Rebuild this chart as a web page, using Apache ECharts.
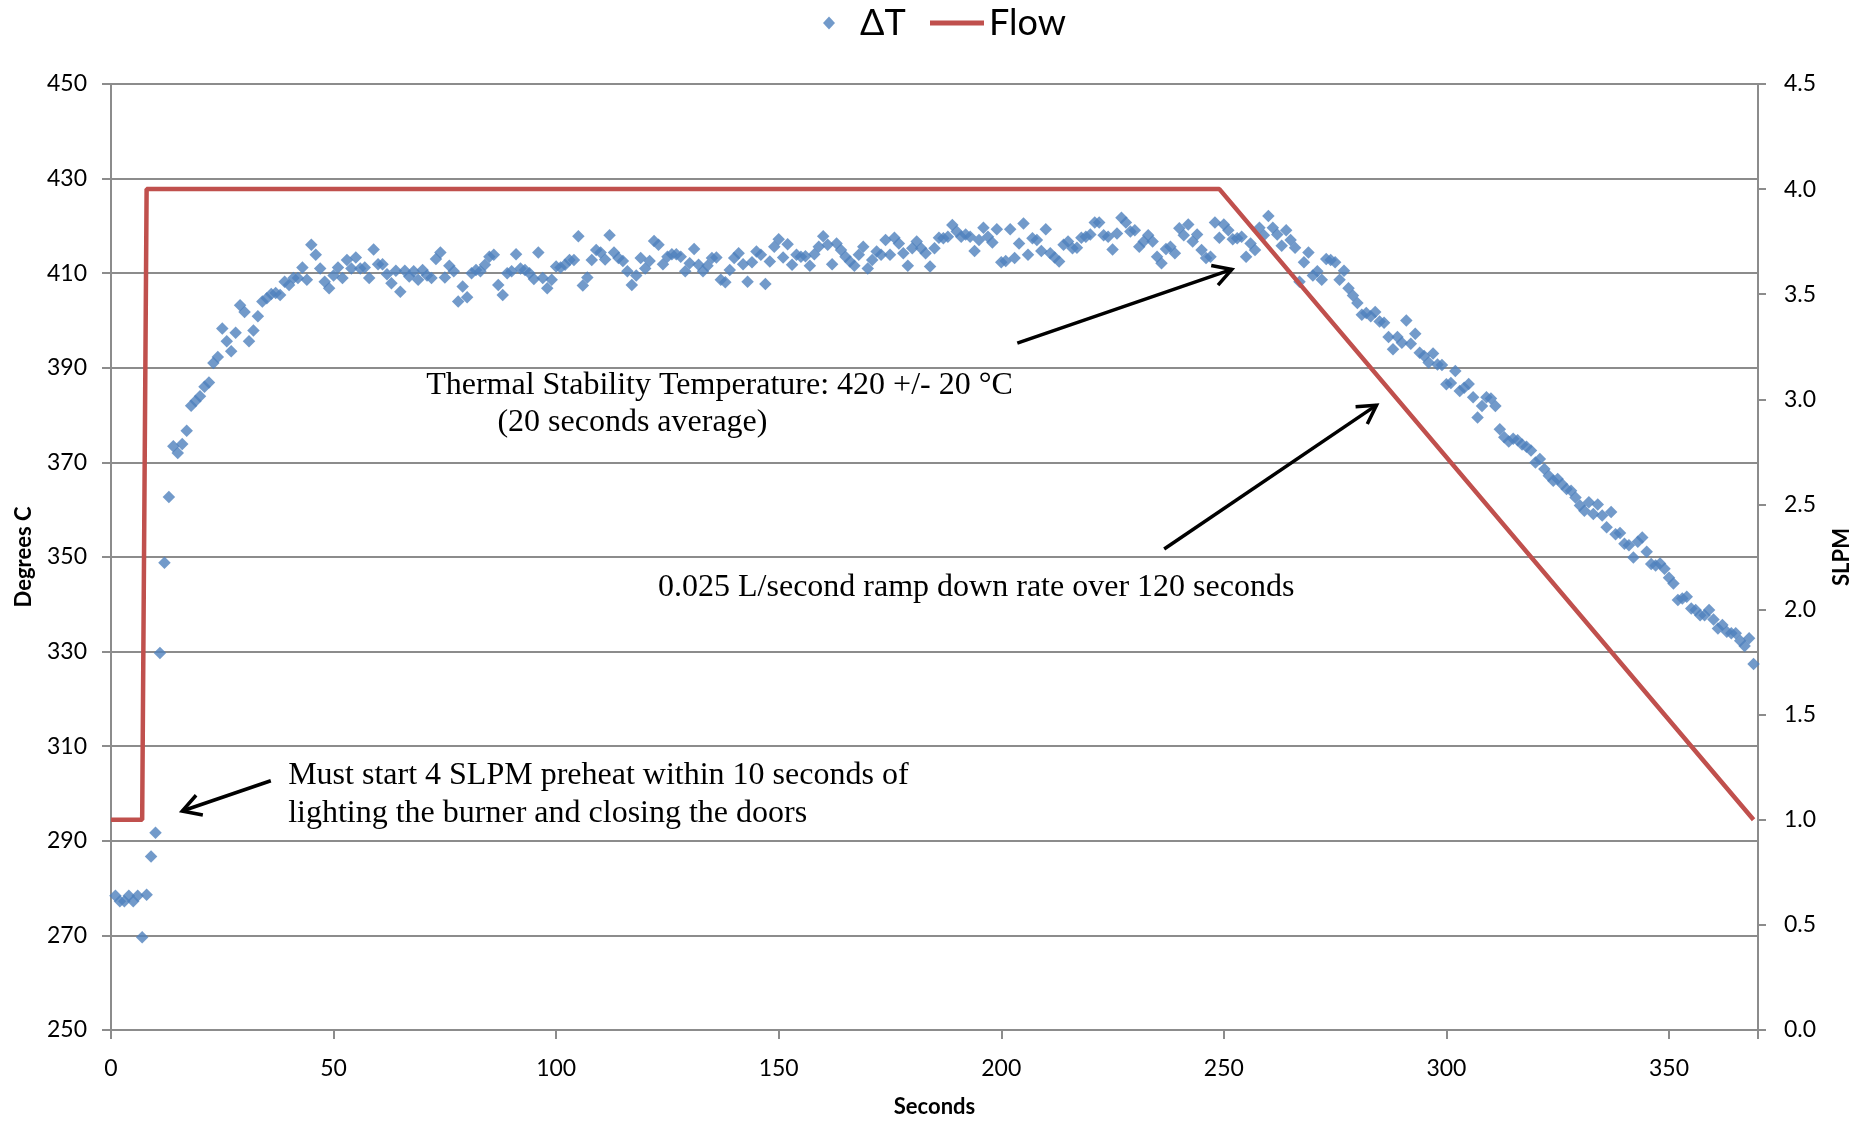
<!DOCTYPE html>
<html>
<head>
<meta charset="utf-8">
<title>ΔT and Flow</title>
<script src="https://cdn.jsdelivr.net/npm/echarts@6/dist/echarts.min.js"></script>
<style>
html,body{margin:0;padding:0;background:#fff;}
#main{width:1866px;height:1123px;}
</style>
</head>
<body>
<div id="main"></div>
<script>
// ΔT readings (Degrees C), one per second starting at t = 1 s
var deltaT = [
	278.4, 277.2, 277.2, 278.4, 277.2, 278.4, 269.6, 278.6, 286.7, 291.7,
	329.7, 348.8, 362.7, 373.4, 372, 373.9, 376.7, 382, 383, 384,
	386, 386.9, 391, 392.3, 398.3, 395.6, 393.5, 397.4, 403.2, 401.8,
	395.6, 397.9, 400.9, 404, 404.7, 405.6, 405.8, 405.4, 408.2, 407.5,
	409, 409, 411.2, 408.6, 416, 413.9, 411, 408.2, 406.8, 409.5,
	411.2, 409, 412.8, 411, 413.3, 411, 411.2, 409, 415, 411.9,
	411.9, 409.8, 407.9, 410.5, 406.1, 410.5, 409.3, 410.4, 408.6, 410.7,
	409.5, 409, 413, 414.4, 409.1, 411.6, 410.4, 404, 407.2, 404.9,
	410, 410.7, 410.4, 411.8, 413.5, 413.9, 407.5, 405.4, 410, 410.4,
	414, 411, 410.7, 410, 408.8, 414.4, 409, 406.8, 408.6, 411.4,
	411.2, 411.8, 412.8, 412.8, 417.8, 407.4, 409.1, 412.8, 414.9, 414.4,
	412.9, 418, 414.4, 413.2, 412.6, 410.4, 407.5, 409.5, 413.2, 411,
	412.6, 416.8, 416, 411.9, 413.5, 414, 414, 413.5, 410.4, 412.1,
	415.1, 411.8, 410.4, 411.6, 413.2, 413.3, 408.6, 408.1, 410.7, 413.2,
	414.2, 411.9, 408.2, 412.3, 414.6, 413.9, 407.7, 412.5, 415.6, 417.2,
	413.3, 416.1, 411.8, 413.9, 413.5, 413.6, 411.6, 414, 415.6, 417.8,
	416, 411.9, 416.3, 414.9, 413.5, 412.5, 411.6, 413.9, 415.6, 411,
	412.8, 414.6, 413.9, 417, 413.9, 417.5, 416.3, 414.2, 411.6, 415.3,
	416.7, 415.3, 414.2, 411.4, 415.3, 417.5, 417.4, 417.7, 420.2, 418.8,
	417.7, 418.2, 417.7, 414.7, 417, 419.6, 417.7, 416.5, 419.3, 412.3,
	412.6, 419.3, 413.2, 416.3, 420.5, 413.9, 417.4, 417, 414.7, 419.3,
	414.2, 413.3, 412.5, 416, 416.7, 415.3, 415.4, 417.5, 417.7, 418.2,
	420.7, 420.7, 418, 417.7, 415, 418.4, 421.7, 420.7, 418.8, 419.1,
	415.6, 416.7, 418, 416.7, 413.5, 412.1, 415.1, 415.6, 414.2, 419.5,
	418, 420.3, 416.7, 418.2, 414.9, 413.2, 413.5, 420.7, 417.5, 420.3,
	419.1, 417.2, 417.4, 417.7, 413.5, 416.3, 414.9, 419.6, 418, 422.1,
	419.6, 418.2, 415.8, 419.1, 417, 415.4, 408.2, 412.3, 414.4, 409.5,
	410.4, 408.6, 413, 412.8, 412.3, 408.6, 410.5, 406.8, 405.3, 403.7,
	401.2, 401.6, 400.9, 401.8, 399.8, 399.5, 396.5, 393.9, 396.5, 395.3,
	400, 395.1, 397.2, 393.2, 392.5, 391.1, 393, 390.7, 390.6, 386.5,
	386.8, 389.3, 385.1, 385.8, 386.6, 383.8, 379.5, 381.9, 383.8, 383.5,
	381.9, 377, 375.3, 374.4, 375, 374.7, 373.8, 373.3, 372.5, 370,
	370.7, 368.6, 367.2, 366.1, 366.5, 365.4, 364.4, 364, 362.6, 360.9,
	359.8, 361.6, 359.1, 361.1, 358.8, 356.3, 359.5, 354.8, 355.1, 352.8,
	352.5, 349.9, 353.2, 354.1, 351.1, 348.5, 348.2, 348.6, 347.5, 345.6,
	344.4, 340.9, 341.2, 341.6, 339.1, 338.8, 337.7, 337.7, 338.8, 336.8,
	334.9, 335.6, 334.2, 333.9, 333.9, 332.3, 331.2, 332.8, 327.4
];

// flow set point (SLPM)
var flowSeconds = [0, 7, 8, 249, 369];
var flowSlpm = [1.0, 1.0, 4.0, 4.0, 1.0];

// annotations, anchored in data coordinates (seconds, degrees C)
var notes = [
	{text: 'Thermal Stability Temperature: 420 +/- 20 °C', at: [70.8, 386.2]},
	{text: '(20 seconds average)', at: [86.8, 378.4]},
	{text: '0.025 L/second ramp down rate over 120 seconds', at: [122.9, 343.6]},
	{text: 'Must start 4 SLPM preheat within 10 seconds of', at: [39.8, 303.8]},
	{text: 'lighting the burner and closing the doors', at: [39.8, 295.8]}
];
var arrows = [
	{from: [203.6, 395.2], to: [251.8, 410.8]},
	{from: [236.6, 351.7], to: [284.3, 382.1]},
	{from: [35.9, 302.7], to: [16.0, 296.3]}
];

var chart = echarts.init(document.getElementById('main'));
var gray = '#8c8c8c';
var font = 'Lato';

var scatterData = deltaT.map(function (v, i) { return [i + 1, v]; });
var flowData = flowSeconds.map(function (s, i) { return [s, flowSlpm[i]]; });

var legendText = {fontFamily: font, fontSize: 36, color: '#000'};

var option = {
	animation: false,
	backgroundColor: '#fff',
	grid: {left: 111, right: 108, top: 84, bottom: 87, containLabel: false},
	legend: [
		{
			data: ['ΔT'], left: 818, top: 0, icon: 'diamond',
			itemWidth: 12, itemHeight: 13,
			textStyle: Object.assign({padding: [0, 0, 0, 20]}, legendText)
		},
		{
			data: ['Flow'], left: 925, top: 0, icon: 'rect',
			itemWidth: 54, itemHeight: 5,
			textStyle: legendText
		}
	],
	xAxis: {
		type: 'value', min: 0, max: 370, interval: 50,
		name: 'Seconds', nameLocation: 'middle', nameGap: 66,
		nameTextStyle: {fontFamily: font, fontWeight: 'bold', fontSize: 22, color: '#000'},
		axisLine: {show: true, onZero: false, lineStyle: {color: gray, width: 2}},
		axisTick: {show: true, length: 9, lineStyle: {color: gray, width: 2}},
		axisLabel: {
			fontFamily: font, fontSize: 23, color: '#000', margin: 27,
			formatter: function (v) { return v % 50 === 0 ? v : ''; }
		},
		splitLine: {show: false}
	},
	yAxis: [
		{
			type: 'value', position: 'left', min: 250, max: 450, interval: 20,
			name: 'Degrees C', nameLocation: 'middle', nameGap: 76, nameRotate: 90,
			nameTextStyle: {fontFamily: font, fontWeight: 'bold', fontSize: 22, color: '#000'},
			axisLine: {show: true, lineStyle: {color: gray, width: 2}},
			axisTick: {show: true, length: 9, lineStyle: {color: gray, width: 2}},
			axisLabel: {fontFamily: font, fontSize: 23, color: '#000', margin: 24},
			splitLine: {show: true, lineStyle: {color: gray, width: 2}}
		},
		{
			type: 'value', position: 'right', min: 0, max: 4.5, interval: 0.5,
			name: 'SLPM', nameLocation: 'middle', nameGap: 73, nameRotate: 90,
			nameTextStyle: {fontFamily: font, fontWeight: 'bold', fontSize: 22, color: '#000'},
			axisLine: {show: true, lineStyle: {color: gray, width: 2}},
			axisTick: {show: true, length: 8, lineStyle: {color: gray, width: 2}},
			axisLabel: {
				fontFamily: font, fontSize: 23, color: '#000', margin: 26,
				formatter: function (v) { return v.toFixed(1); }
			},
			splitLine: {show: false}
		}
	],
	series: [
		{
			name: 'ΔT', type: 'scatter', yAxisIndex: 0,
			symbol: 'diamond', symbolSize: 12.5,
			itemStyle: {color: '#4F81BD'},
			data: scatterData
		},
		{
			name: 'Flow', type: 'line', yAxisIndex: 1,
			symbol: 'none',
			lineStyle: {color: '#C0504D', width: 4.5},
			itemStyle: {color: '#C0504D'},
			data: flowData
		}
	]
};

chart.setOption(option);

function toPx(p) {
	return chart.convertToPixel({xAxisIndex: 0, yAxisIndex: 0}, p);
}

function drawNotes() {
	var els = [];
	notes.forEach(function (n) {
		var p = toPx(n.at);
		els.push({
			type: 'text', x: p[0], y: p[1], z: 100,
			style: {
				text: n.text, fontFamily: 'Liberation Serif', fontSize: 32, fill: '#000',
				align: 'left', verticalAlign: 'middle',
				textAlign: 'left', textVerticalAlign: 'middle'
			}
		});
	});
	arrows.forEach(function (a) {
		var p0 = toPx(a.from), p1 = toPx(a.to);
		var ang = Math.atan2(p1[1] - p0[1], p1[0] - p0[0]);
		var len = 21, spread = 0.52;
		var h1 = [p1[0] - len * Math.cos(ang - spread), p1[1] - len * Math.sin(ang - spread)];
		var h2 = [p1[0] - len * Math.cos(ang + spread), p1[1] - len * Math.sin(ang + spread)];
		els.push({type: 'polyline', z: 100, shape: {points: [p0, p1]},
			style: {stroke: '#000', lineWidth: 3.5, fill: 'none'}});
		els.push({type: 'polyline', z: 100, shape: {points: [h1, p1, h2]},
			style: {stroke: '#000', lineWidth: 3.5, fill: 'none', lineJoin: 'miter'}});
	});
	chart.setOption({graphic: els});
}

drawNotes();
</script>
</body>
</html>
